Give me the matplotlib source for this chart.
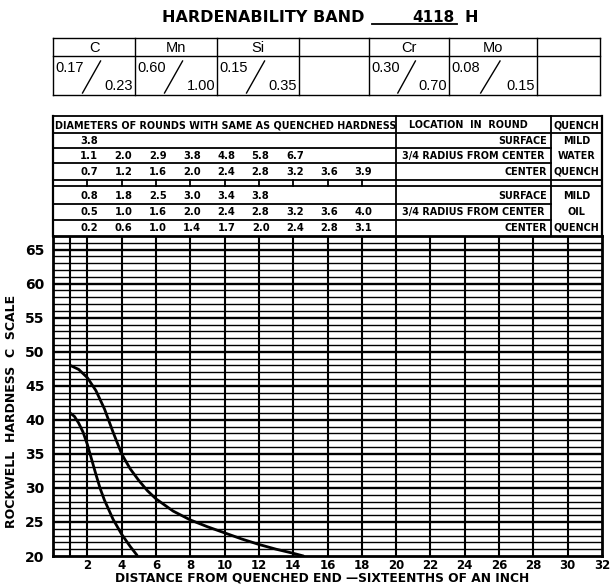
import matplotlib
matplotlib.use("Agg")
import matplotlib.pyplot as plt
from matplotlib.lines import Line2D
import matplotlib.transforms as mtransforms

W, H = 610, 588

# ---------------- data ----------------
title_text = "HARDENABILITY BAND"
grade_text = "4118"
grade_suffix = "H"

elements = ["C", "Mn", "Si", "", "Cr", "Mo", ""]
elem_min = ["0.17", "0.60", "0.15", "", "0.30", "0.08", ""]
elem_max = ["0.23", "1.00", "0.35", "", "0.70", "0.15", ""]

diam_positions = [2, 4, 6, 8, 10, 12, 14, 16, 18]
water_surface = ["3.8"]
water_three_quarter = ["1.1", "2.0", "2.9", "3.8", "4.8", "5.8", "6.7"]
water_center = ["0.7", "1.2", "1.6", "2.0", "2.4", "2.8", "3.2", "3.6", "3.9"]
oil_surface = ["0.8", "1.8", "2.5", "3.0", "3.4", "3.8"]
oil_three_quarter = ["0.5", "1.0", "1.6", "2.0", "2.4", "2.8", "3.2", "3.6", "4.0"]
oil_center = ["0.2", "0.6", "1.0", "1.4", "1.7", "2.0", "2.4", "2.8", "3.1"]

j_max = [1, 1.5, 2, 2.5, 3, 3.5, 4, 4.5, 5, 5.5, 6, 7, 8, 9, 10, 11, 12, 13, 14, 14.6]
hrc_max = [48, 47.4, 46.2, 44.3, 41.6, 38.2, 35.0, 32.8, 31.1, 29.6, 28.4, 26.6, 25.3, 24.3, 23.4, 22.5, 21.7, 21.0, 20.4, 20]
j_min = [1, 1.25, 1.5, 1.75, 2, 2.25, 2.5, 2.75, 3, 3.5, 4, 4.5, 4.9]
hrc_min = [41, 40.5, 39.5, 38.2, 36.4, 34.2, 32.0, 29.9, 28.2, 25.4, 23.2, 21.4, 20.1]

x_ticks = list(range(2, 33, 2))
y_ticks = list(range(20, 66, 5))
x_grid = [1] + list(range(2, 32, 2))

# ---------------- figure ----------------
fig = plt.figure(figsize=(W / 100, H / 100), dpi=100)
fig.patch.set_facecolor("white")

def fx(x):
    return x / W

def fy(y):
    return 1 - y / H

ax_left, ax_right, ax_bottom, ax_top = 53, 602, 556, 236
ax = fig.add_axes([fx(ax_left), fy(ax_bottom), (ax_right - ax_left) / W, (ax_bottom - ax_top) / H])
ax.set_xlim(0, 32)
ax.set_ylim(20, 67)

for v in range(21, 67):
    ax.axhline(v, color="black", lw=1.7 if v % 5 == 0 else 1.0, zorder=1)
for v in x_grid:
    ax.axvline(v, color="black", lw=1.5, zorder=1)

ax.plot(j_max, hrc_max, color="black", lw=2.0, zorder=3, solid_capstyle="round", solid_joinstyle="round")
ax.plot(j_min, hrc_min, color="black", lw=2.0, zorder=3, solid_capstyle="round", solid_joinstyle="round")

for s in ax.spines.values():
    s.set_linewidth(2.0)

ax.set_xticks(x_ticks)
ax.set_xticklabels([str(t) for t in x_ticks], fontsize=8.5, fontweight="bold")
ax.set_yticks(y_ticks)
ax.set_yticklabels([str(t) for t in y_ticks], fontsize=10, fontweight="bold")
ax.tick_params(axis="both", length=0)
ax.tick_params(axis="x", pad=2.5)
ax.tick_params(axis="y", pad=6)

fig.text(fx(322), fy(578), "DISTANCE FROM QUENCHED END \u2014SIXTEENTHS OF AN INCH",
         ha="center", va="center", fontsize=8.8, fontweight="bold")
fig.text(fx(12), fy(411), "ROCKWELL  HARDNESS  C  SCALE", rotation=90,
         ha="center", va="center", fontsize=9, fontweight="bold")

# ---------------- title ----------------
fig.text(fx(162), fy(18), title_text, ha="left", va="center", fontsize=11.5, fontweight="bold")
fig.add_artist(Line2D([fx(372), fx(457)], [fy(24), fy(24)], color="black", lw=1.3))
fig.text(fx(455), fy(18), grade_text, ha="right", va="center", fontsize=11, fontweight="bold")
fig.text(fx(465), fy(18), grade_suffix, ha="left", va="center", fontsize=11.5, fontweight="bold")

# ---------------- chemistry table ----------------
cx = [53, 135, 217, 299, 369, 449, 537, 600]
c_top, c_mid, c_bot = 38, 56, 95

def hline(x0, x1, y, lw=1.0):
    fig.add_artist(Line2D([fx(x0), fx(x1)], [fy(y), fy(y)], color="black", lw=lw))

def vline(x, y0, y1, lw=1.0):
    fig.add_artist(Line2D([fx(x), fx(x)], [fy(y0), fy(y1)], color="black", lw=lw))

for y in (c_top, c_mid, c_bot):
    hline(cx[0], cx[-1], y)
for x in cx:
    vline(x, c_top, c_bot)

for i, el in enumerate(elements):
    x0, x1 = cx[i], cx[i + 1]
    if el:
        fig.text(fx((x0 + x1) / 2), fy((c_top + c_mid) / 2 + 1), el, ha="center", va="center",
                 fontsize=10.5, family="Liberation Sans")
    if elem_min[i]:
        fig.text(fx(x0 + 2), fy(c_mid + 12), elem_min[i], ha="left", va="center",
                 fontsize=10.5, family="Liberation Sans")
        fig.text(fx(x1 - 2), fy(c_bot - 9), elem_max[i], ha="right", va="center",
                 fontsize=10.5, family="Liberation Sans")
        w = x1 - x0
        fig.add_artist(Line2D([fx(x0 + 0.36 * w), fx(x0 + 0.58 * w)],
                              [fy(c_bot - 2), fy(c_mid + 5)], color="black", lw=1.0))

# ---------------- diameter table ----------------
blend = mtransforms.blended_transform_factory(ax.transData, fig.transFigure)

def thline(j0, j1, y, lw=1.3):
    ax.add_line(Line2D([j0, j1], [fy(y), fy(y)], transform=blend, color="black", lw=lw, clip_on=False))

def tvline(j, y0, y1, lw=1.3):
    ax.add_line(Line2D([j, j], [fy(y0), fy(y1)], transform=blend, color="black", lw=lw, clip_on=False))

t_top, t_head = 116, 133
row_lines_all = [t_top, t_head, 180, 186]
row_lines_partial = [148, 163, 204, 220]
for y in row_lines_all:
    thline(0, 32, y)
for y in row_lines_partial:
    thline(0, 29, y)
for j in (0, 20, 29, 32):
    tvline(j, t_top, ax_top, lw=1.6 if j in (0, 32) else 1.3)
for j in diam_positions:
    tvline(j, 180, 186, lw=1.3)

tf = dict(fontsize=6.9, fontweight="bold", va="center")
fig.text(fx(55), fy(125), "DIAMETERS OF ROUNDS WITH SAME AS QUENCHED HARDNESS", ha="left", **tf)
ax.text(24.2, fy(125), "LOCATION  IN  ROUND", transform=blend, ha="center", **tf)
ax.text(30.5, fy(125), "QUENCH", transform=blend, ha="center", **tf)

rows = [
    (water_surface, 141, "SURFACE", "MILD"),
    (water_three_quarter, 156, "3/4 RADIUS FROM CENTER", "WATER"),
    (water_center, 172, "CENTER", "QUENCH"),
    (oil_surface, 196, "SURFACE", "MILD"),
    (oil_three_quarter, 212, "3/4 RADIUS FROM CENTER", "OIL"),
    (oil_center, 228, "CENTER", "QUENCH"),
]
for vals, y, loc, q in rows:
    for j, s in zip(diam_positions, vals):
        ax.text(j + 0.1, fy(y), s, transform=blend, ha="center", fontsize=7.2, fontweight="bold", va="center")
    if loc.startswith("3/4"):
        ax.text(24.5, fy(y), loc, transform=blend, ha="center", **tf)
    else:
        ax.text(28.8, fy(y), loc, transform=blend, ha="right", **tf)
    ax.text(30.5, fy(y), q, transform=blend, ha="center", **tf)

fig.savefig("out.png", dpi=100, facecolor="white")
